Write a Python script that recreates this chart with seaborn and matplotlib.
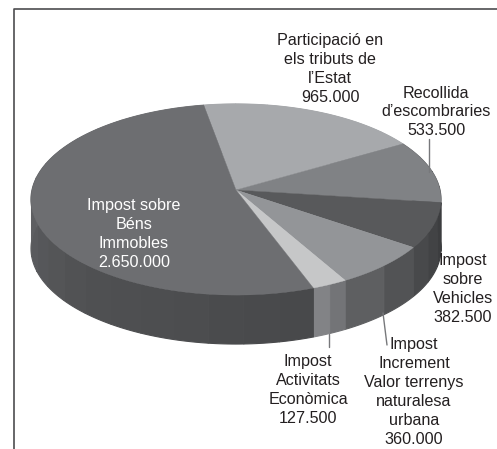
import numpy as np
import matplotlib
matplotlib.use("Agg")
import matplotlib.pyplot as plt
import seaborn as sns

# Valeurs du graphique, dans le sens horaire depuis le haut
labels = ["Participació en\nels tributs de\nl’Estat\n965.000",
          "Recollida\nd’escombraries\n533.500",
          "Impost\nsobre\nVehicles\n382.500",
          "Impost\nIncrement\nValor terrenys\nnaturalesa\nurbana\n360.000",
          "Impost\nActivitats\nEconòmica\n127.500",
          "Impost sobre\nBéns\nImmobles\n2.650.000"]
values = [965000, 533500, 382500, 360000, 127500, 2650000]
top_colors = ["#a7a9ac", "#808285", "#58595b", "#939598", "#c6c7c8", "#6d6e71"]
side_colors = [["#a7a9ac", "#a7a9ac"],
               ["#6a6b6e", "#4a4b4d"],
               ["#3c3d3f", "#48494b"],
               ["#525355", "#5e5f61"],
               ["#737477", "#828386"],
               ["#48494b", "#505153", "#626366", "#78797c"]]
label_pos = [(330, 69), (436, 112), (463, 289), (414, 392), (308, 390), (134, 234)]
label_cols = ["#231f20", "#231f20", "#231f20", "#231f20", "#231f20", "white"]
leaders = [((429, 139), (429, 172)), ((329, 334), (329, 347)), ((383, 313), (387, 345))]

# Géométrie de la perspective (pixels)
apex = (236, 190)
rad_x, rad_y, persp, depth = 204, 94.6, 0.0995, 49


def rim(theta_deg, drop=0):
    t = np.radians(theta_deg)
    den = 1 + persp * np.sin(t)
    return apex[0] + rad_x * np.cos(t) / den, apex[1] - rad_y * np.sin(t) / den + drop


sns.set_style("white")
plt.rcParams["font.family"] = ["Liberation Sans", "DejaVu Sans"]

fig = plt.figure(figsize=(4.97, 4.49), dpi=100)
ax = fig.add_axes([0, 0, 1, 1])
ax.set_xlim(0, 497)
ax.set_ylim(449, 0)
ax.axis("off")

# Cadre
ax.plot([13.5, 13.5, 497], [449, 9, 9], color="#4d4d4f", lw=1.2)

angles = 100 - np.cumsum([0] + values) / sum(values) * 360

# Flancs d'abord, la face du dessus les recouvre
for i in range(len(values)):
    start, stop = angles[i], angles[i + 1]
    n_bands = max(2, int((start - stop) / 9))
    shades = sns.blend_palette(side_colors[i], n_bands)
    edges = np.linspace(start, stop, n_bands + 1)
    for j in range(n_bands):
        th = np.linspace(edges[j], edges[j + 1], 10)
        x, y = rim(th)
        xb, yb = rim(th[::-1], depth)
        ax.fill(np.r_[x, xb], np.r_[y, yb], color=shades[j], lw=0.8, zorder=2)

# Face du dessus
for i in range(len(values)):
    th = np.linspace(angles[i], angles[i + 1], 80)
    x, y = rim(th)
    ax.fill(np.r_[apex[0], x], np.r_[apex[1], y], color=top_colors[i], lw=0.3, zorder=3)

for (p0, p1) in leaders:
    ax.plot([p0[0], p1[0]], [p0[1], p1[1]], color="#77787b", lw=1, zorder=4)

for lab, (px, py), col in zip(labels, label_pos, label_cols):
    ax.text(px, py, lab, color=col, ha="center", va="center", fontsize=11.6,
            linespacing=1.32, zorder=5)

fig.savefig("out.png", dpi=100)
